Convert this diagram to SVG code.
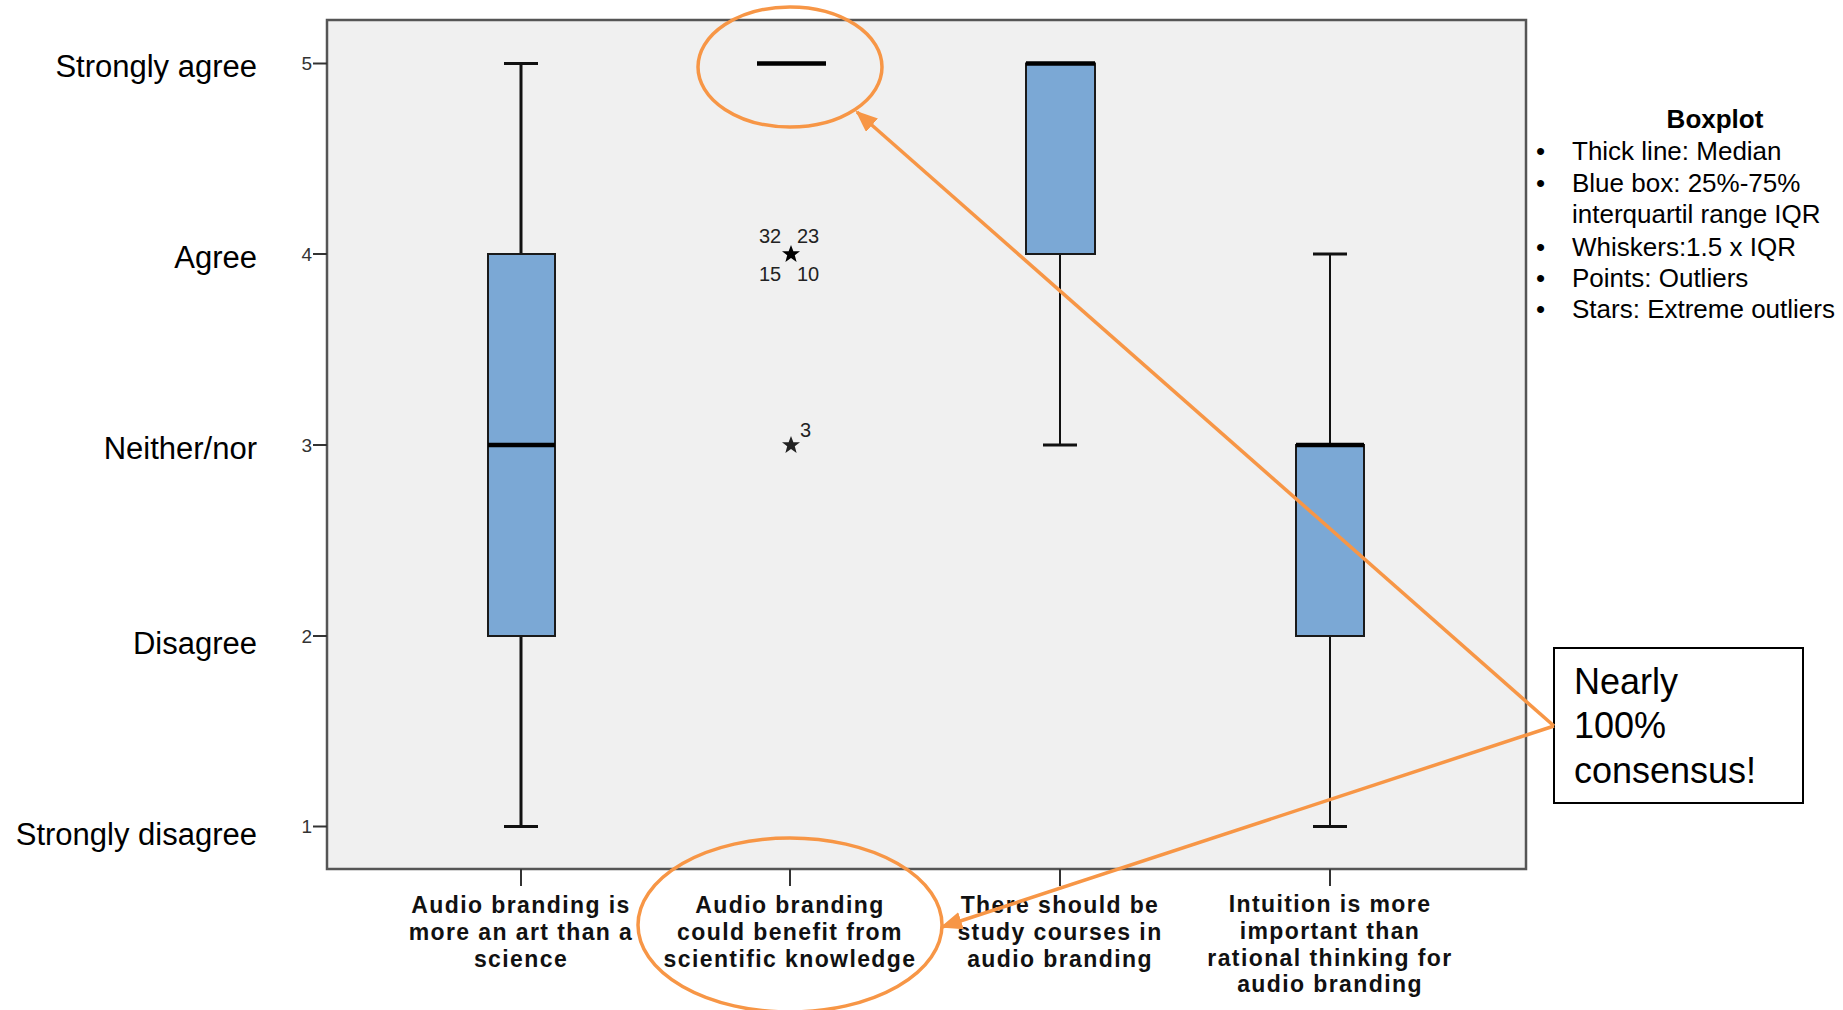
<svg xmlns="http://www.w3.org/2000/svg" width="1843" height="1010" viewBox="0 0 1843 1010">
<style>
.ylab{font-family:"Liberation Sans",Arial,sans-serif;font-size:31px;fill:#000;text-anchor:end}
.tick{font-family:"Liberation Sans",Arial,sans-serif;font-size:19px;fill:#333;text-anchor:end}
.xlab{font-family:"Liberation Sans",Arial,sans-serif;font-size:23px;letter-spacing:1.4px;font-weight:bold;fill:#111;text-anchor:middle}
.num{font-family:"Liberation Sans",Arial,sans-serif;font-size:20px;fill:#222}
.leg{font-family:"Liberation Sans",Arial,sans-serif;font-size:26px;fill:#000}
.call{font-family:"Liberation Sans",Arial,sans-serif;font-size:36px;fill:#000}
.box{fill:#7BA8D5;stroke:#1a1a1a;stroke-width:2}
.wh{stroke:#111;stroke-width:2;fill:none}
.whb{stroke:#111;stroke-width:3;fill:none}
.med{stroke:#000;stroke-width:4.5}
.orange{stroke:#F79646;stroke-width:3.5;fill:none}
</style>
<defs>
<marker id="arr" markerUnits="userSpaceOnUse" markerWidth="22" markerHeight="18" refX="20" refY="9" orient="auto">
<path d="M0,0 L22,9 L0,18 z" fill="#F79646"/>
</marker>
<path id="star" d="M0,-9 L2.4,-2.8 L9,-2.8 L3.8,1.3 L5.6,8 L0,4 L-5.6,8 L-3.8,1.3 L-9,-2.8 L-2.4,-2.8 z"/>
</defs>
<rect width="1843" height="1010" fill="#fff"/>

<g id="plot">
<rect x="327" y="20" width="1199" height="849" fill="#F0F0F0" stroke="#555" stroke-width="2.5"/>
<g stroke="#333" stroke-width="2">
<line x1="313" y1="63.5" x2="327" y2="63.5"/>
<line x1="313" y1="254" x2="327" y2="254"/>
<line x1="313" y1="445" x2="327" y2="445"/>
<line x1="313" y1="636" x2="327" y2="636"/>
<line x1="313" y1="826.5" x2="327" y2="826.5"/>
<line x1="521" y1="869" x2="521" y2="886"/>
<line x1="790" y1="869" x2="790" y2="886"/>
<line x1="1060" y1="869" x2="1060" y2="886"/>
<line x1="1330" y1="869" x2="1330" y2="886"/>
</g>
<text class="tick" x="312" y="70">5</text>
<text class="tick" x="312" y="261">4</text>
<text class="tick" x="312" y="452">3</text>
<text class="tick" x="312" y="643">2</text>
<text class="tick" x="312" y="833">1</text>
</g>

<g id="ylabels">
<text class="ylab" x="257" y="77">Strongly agree</text>
<text class="ylab" x="257" y="268">Agree</text>
<text class="ylab" x="257" y="459">Neither/nor</text>
<text class="ylab" x="257" y="654">Disagree</text>
<text class="ylab" x="257" y="845">Strongly disagree</text>
</g>

<g id="box1">
<line class="whb" x1="521" y1="63.5" x2="521" y2="254"/>
<line class="whb" x1="521" y1="636" x2="521" y2="826.5"/>
<line class="whb" x1="504" y1="63.5" x2="538" y2="63.5"/>
<line class="whb" x1="504" y1="826.5" x2="538" y2="826.5"/>
<rect class="box" x="488" y="254" width="67" height="382"/>
<line class="med" x1="488" y1="445" x2="555" y2="445"/>
<text class="xlab" x="521" y="913">Audio branding is<tspan x="521" dy="27">more an art than a</tspan><tspan x="521" dy="26.5">science</tspan></text>
</g>

<g id="box2">
<line class="med" x1="757" y1="63.5" x2="826" y2="63.5"/>
<use href="#star" x="791" y="254" fill="#000"/>
<use href="#star" x="791" y="445" fill="#222"/>
<text class="num" x="759" y="243">32</text>
<text class="num" x="797" y="243">23</text>
<text class="num" x="759" y="281">15</text>
<text class="num" x="797" y="281">10</text>
<text class="num" x="800" y="437">3</text>
<text class="xlab" x="790" y="913">Audio branding<tspan x="790" dy="27">could benefit from</tspan><tspan x="790" dy="26.5">scientific knowledge</tspan></text>
</g>

<g id="box3">
<line class="wh" x1="1060" y1="254" x2="1060" y2="445"/>
<line class="whb" x1="1043" y1="445" x2="1077" y2="445"/>
<rect class="box" x="1026" y="63.5" width="69" height="190.5"/>
<line class="med" x1="1026" y1="63.5" x2="1095" y2="63.5"/>
<text class="xlab" x="1060" y="913">There should be<tspan x="1060" dy="27">study courses in</tspan><tspan x="1060" dy="26.5">audio branding</tspan></text>
</g>

<g id="box4">
<line class="wh" x1="1330" y1="254" x2="1330" y2="445"/>
<line class="wh" x1="1330" y1="636" x2="1330" y2="826.5"/>
<line class="whb" x1="1313" y1="254" x2="1347" y2="254"/>
<line class="whb" x1="1313" y1="826.5" x2="1347" y2="826.5"/>
<rect class="box" x="1296" y="445" width="68" height="191"/>
<line class="med" x1="1296" y1="445" x2="1364" y2="445"/>
<text class="xlab" x="1330" y="912">Intuition is more<tspan x="1330" dy="27">important than</tspan><tspan x="1330" dy="26.5">rational thinking for</tspan><tspan x="1330" dy="26.5">audio branding</tspan></text>
</g>

<g id="legend">
<text class="leg" x="1715" y="128" font-weight="bold" text-anchor="middle">Boxplot</text>
<g class="leg">
<text x="1536" y="160">•</text><text x="1572" y="160">Thick line: Median</text>
<text x="1536" y="192">•</text><text x="1572" y="192">Blue box: 25%-75%<tspan x="1572" dy="31">interquartil range IQR</tspan></text>
<text x="1536" y="256">•</text><text x="1572" y="256">Whiskers:1.5 x IQR</text>
<text x="1536" y="287">•</text><text x="1572" y="287">Points: Outliers</text>
<text x="1536" y="318">•</text><text x="1572" y="318">Stars: Extreme outliers</text>
</g>
</g>

<g id="highlights">
<ellipse class="orange" cx="790" cy="67" rx="92" ry="60"/>
<ellipse class="orange" cx="790" cy="925" rx="152" ry="87"/>
</g>

<g id="callout">
<rect x="1554" y="648" width="249" height="155" fill="#fff" stroke="#000" stroke-width="2"/>
<text class="call" x="1574" y="694">Nearly<tspan x="1574" dy="44">100%</tspan><tspan x="1574" dy="45">consensus!</tspan></text>
</g>

<g id="connectors">
<line class="orange" x1="1554" y1="726" x2="857" y2="112" marker-end="url(#arr)"/>
<line class="orange" x1="1554" y1="726" x2="942" y2="927" marker-end="url(#arr)"/>
</g>
</svg>
